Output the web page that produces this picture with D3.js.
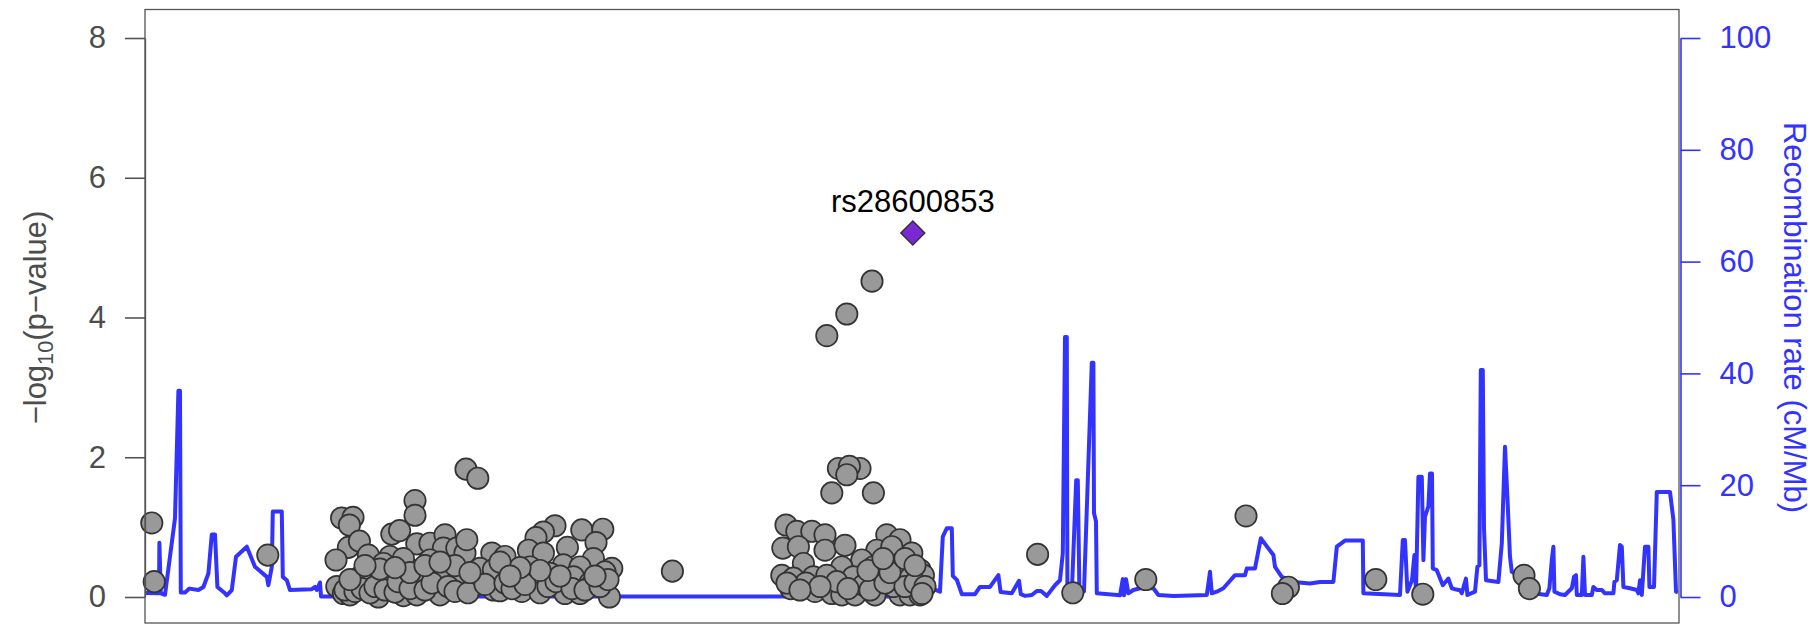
<!DOCTYPE html>
<html>
<head>
<meta charset="utf-8">
<script src="https://cdn.jsdelivr.net/npm/d3@7"></script>
<style>
  html, body { margin: 0; padding: 0; background: #fff; }
  svg { display: block; font-family: "Liberation Sans", Arial, Helvetica, sans-serif; }
</style>
</head>
<body>
<svg id="chart" width="1816" height="625"></svg>
<script>
// ---------------- DATA ----------------
// SNP positions (kb from region start) and -log10(p)
const snpPos = [
  3.4, 4.6, 61.4,
  160.5, 166.4, 135, 135, 98.3, 104, 102.2, 123.4, 127.3, 101.7, 107.2, 95.5, 135.9, 142.5, 150, 149.2, 155.9,
  160, 160.9, 173.4, 111.7, 122.5, 130.9, 142.5, 113.4, 205, 199.2, 195.5, 218.4, 228.9, 225.5, 211.2, 180,
  191.7, 199.2, 224.2, 233.4, 230, 209.2, 217.5, 192.5, 202.5, 177.5, 185.9, 194.2, 214.2, 222.5, 107.5, 120.9,
  127.5, 142.5, 149.2, 167.5, 174.2, 122.5, 137.5, 110.9, 129.2, 119.2, 97.5, 95.9, 99.2, 102.5, 116.7, 129.2,
  135.9, 147.5, 158.4, 164.2, 174.2, 177.5, 188.4, 197.5, 210, 217.5, 232.2, 223.4,
  100, 105, 108.5, 112.5, 115, 120, 125, 126.5, 132.5, 140, 143.5, 151.5, 155, 161.5, 170, 180, 183.5, 190,
  201.5, 205.5, 213.5, 220, 227.5, 231.5, 225, 207.5, 197.5, 187.5, 155, 162.5, 117.5, 132.5, 102.5, 110, 125,
  140, 147.5, 177.5, 182.5,
  263.7,
  363.5, 350.9, 340.9, 346.7, 357.5, 352.2, 350.9, 343.4, 364.2,
  320.5, 325.9, 333.4, 340, 318.9, 326.7, 340, 350, 370.9, 377.5, 383.4, 365.9, 373.4, 358.4, 348.4, 329.2,
  387.5, 364.2, 377.5, 318.4, 324.2, 334.2, 340.9, 354.2, 367.5, 382.5, 389.2, 322.9, 335, 343.4, 348.4, 355,
  365, 377.5, 382.5, 387.5, 345.9, 359.2, 374.2, 330.5, 337.5, 351.5, 362.5, 370, 380, 385, 361.5, 372.5, 380,
  385, 369, 321, 327.5, 390, 388.5,
  446.3, 463.9, 500.4, 550.5, 571.7, 568.7, 615.4, 638.9, 689.5, 692.2
];
const snpLogP = [
  1.06, 0.22, 0.60,
  1.83, 1.70, 1.38, 1.17, 1.13, 1.14, 1.03, 0.90, 0.95, 0.71, 0.80, 0.53, 0.76, 0.77, 0.89, 0.70, 0.70,
  0.63, 0.82, 0.63, 0.60, 0.58, 0.43, 0.53, 0.39, 1.02, 0.93, 0.85, 0.96, 0.97, 0.78, 0.71, 0.58,
  0.67, 0.63, 0.55, 0.41, 0.36, 0.46, 0.43, 0.43, 0.34, 0.36, 0.29, 0.29, 0.29, 0.20, 0.29, 0.31,
  0.29, 0.31, 0.29, 0.41, 0.39, 0.17, 0.17, 0.20, 0.55, 0.48, 0.12, 0.15, 0.05, 0.03, 0.00, 0.02,
  0.03, 0.03, 0.20, 0.15, 0.10, 0.09, 0.08, 0.06, 0.05, 0.05, 0.00, 0.17,
  0.10, 0.08, 0.12, 0.06, 0.15, 0.10, 0.07, 0.22, 0.12, 0.10, 0.20, 0.15, 0.08, 0.06, 0.18, 0.20, 0.12, 0.18,
  0.15, 0.22, 0.12, 0.10, 0.15, 0.25, 0.30, 0.30, 0.38, 0.42, 0.45, 0.35, 0.40, 0.35, 0.25, 0.45, 0.42,
  0.45, 0.50, 0.50, 0.30,
  0.37,
  4.52, 4.05, 3.74, 1.84, 1.84, 1.87, 1.75, 1.49, 1.49,
  1.03, 0.94, 0.94, 0.89, 0.70, 0.72, 0.67, 0.74, 0.89, 0.82, 0.63, 0.67, 0.72, 0.53, 0.43, 0.48,
  0.39, 0.43, 0.48, 0.31, 0.27, 0.29, 0.31, 0.29, 0.29, 0.27, 0.31, 0.12, 0.08, 0.05, 0.03, 0.03,
  0.03, 0.03, 0.03, 0.03, 0.22, 0.17, 0.15, 0.20, 0.15, 0.12, 0.10, 0.20, 0.15, 0.20, 0.38, 0.35, 0.55,
  0.45, 0.55, 0.20, 0.10, 0.15, 0.05,
  0.61, 0.06, 0.25, 1.16, 0.14, 0.05, 0.25, 0.04, 0.31, 0.12
];

// Lead SNP
const leadName = "rs28600853";
const leadPos = 383.9;
const leadLogP = 5.21;

// Recombination rate (cM/Mb) along the region
const recombPos = [
  0.5, 7, 7.2, 7.9, 10, 15, 16.7, 17.5, 17.9, 20, 22.2, 26.7, 29.2, 31.7, 33.4, 35, 36.2, 40, 40.9, 43.4,
  45.5, 50.9, 55, 60.9, 61.7, 63.4, 63.9, 68.4, 68.9, 70.9, 72.5, 83.4, 85, 85.9, 87.5, 88, 390,
  393.4, 397.5, 398.9, 400.9, 403.4, 403.9, 406, 408.4, 415, 417.5, 422.5, 426.7, 427.8, 433.4, 437, 437.9,
  440, 443.4, 445.9, 448, 450.9, 455, 457.5, 458.9, 460, 460.9, 461.2, 463.4, 465.6, 466.4, 467.2, 469.5,
  473.4, 474.2, 474.5, 475.5, 475.9, 487.5, 488.9, 489.5, 490.5, 491.7, 494.2, 497.5, 504.2, 506.7, 514.2,
  530.9, 532.5, 533.4, 535.9, 539.2, 545, 550, 550.9, 555, 557.9, 564.2, 565, 568.4, 574.2, 582.5, 587.5,
  594.2, 595.9, 600, 608.9, 609.2, 627.5, 628.9, 630, 631.2, 633.5, 634.7, 635.5, 636.7, 638.4, 639.2, 640,
  641.7, 642.5, 643.5, 643.9, 645.9, 648.9, 651.7, 653.4, 655, 657.5, 658.4, 660.5, 661.2, 665, 666.2, 667.2,
  667.9, 668.9, 669.5, 670.5, 676.7, 678.4, 680, 681.2, 682.5, 683.4, 685, 688.5, 694.2, 700.9, 702.2, 703.4,
  704.2, 704.7, 707.5, 710, 713.4, 714.5, 715.5, 715.9, 718.4, 719.2, 720, 723.4, 724.2, 725.9, 728.4, 730,
  734.2, 734.7, 735.9, 737.5, 738.4, 739.2, 742.5, 745.9, 746.7, 747.5, 748.4, 750, 751.7, 752.2, 754.5,
  755.9, 762.5, 764.2, 765.5, 766.5
];
const recombRate = [
  0.7, 0.66, 9.7, 0.66, 0.4, 14.1, 36.9, 36.9, 0.8, 0.8, 1.5, 1.25, 1.8, 4.2, 11.2, 11.2, 1.8, 0.66, 0.3, 1.25,
  7.2, 9.0, 5.4, 3.6, 2.1, 5.4, 15.3, 15.3, 3.6, 3.0, 1.25, 1.4, 1.8, 1.25, 2.6, 0.1, 0.1,
  1.56, 0.95, 10.8, 12.3, 12.3, 3.8, 3.0, 0.5, 0.5, 1.8, 1.8, 3.9, 0.9, 0.66, 2.9, 0.5,
  0.2, 0.36, 1.07, 1.07, 0.2, 2.1, 3.0, 7.8, 46.5, 46.5, 1.25, 0.66, 20.9, 20.9, 1.25, 1.0,
  41.9, 41.9, 15.0, 13.5, 0.66, 0.3, 3.2, 0.3, 3.2, 0.66, 1.25, 1.56, 1.56, 0.36, 0.2,
  0.36, 4.5, 0.66, 0.95, 1.56, 3.9, 3.9, 5.1, 5.1, 10.5, 7.5, 5.4, 3.6, 2.7, 2.4, 2.7,
  2.7, 9.0, 10.1, 10.1, 0.66, 0.36, 10.2, 10.2, 0.95, 3.0, 7.5, 0.95, 21.5, 21.5, 6.6, 14.4,
  16.2, 22.1, 22.1, 5.1, 4.8, 2.1, 3.3, 1.56, 1.4, 1.2, 0.66, 3.3, 0.36, 0.95, 5.4, 5.7,
  40.6, 40.6, 12.3, 3.0, 2.7, 9.6, 26.9, 17.9, 7.2, 4.5, 4.2, 1.5, 0.66, 0.36, 1.56, 6.6,
  9.0, 0.95, 0.5, 0.36, 1.56, 3.6, 3.9, 0.36, 0.36, 7.2, 0.36, 0.36, 1.8, 1.25, 1.25, 0.66,
  0.66, 2.7, 3.0, 9.3, 9.0, 1.8, 1.56, 1.25, 0.66, 3.0, 0.36, 9.0, 9.0, 1.8, 1.8,
  18.8, 18.8, 13.8, 0.95, 0.8
];

// Axis ticks
const yTicks = [0, 2, 4, 6, 8];
const recombTicks = [0, 20, 40, 60, 80, 100];

// ---------------- LAYOUT ----------------
const svg = d3.select("#chart");
const plotLeft = 145, plotRight = 1679, plotTop = 9.5, plotBottom = 623;
const regionKb = [0, 766.5];

const x = d3.scaleLinear().domain(regionKb).range([145, 1678]);
const y = d3.scaleLinear().domain([0, 8]).range([597, 38]);
const yr = d3.scaleLinear().domain([0, 100]).range([597, 38]);

const FONT = 31;
const GREY_TXT = "#4d4d4d";
const BLUE = "#3333ff";

// Recombination line (behind points)
const line = d3.line()
  .x((d, i) => x(recombPos[i]))
  .y((d) => yr(d));
svg.append("path")
  .datum(recombRate)
  .attr("d", line)
  .attr("fill", "none")
  .attr("stroke", BLUE)
  .attr("stroke-width", 4)
  .attr("stroke-linejoin", "round");

// SNP points
const snps = snpPos.map((p, i) => ({ pos: p, lp: snpLogP[i] }));
svg.append("g")
  .selectAll("circle")
  .data(snps)
  .join("circle")
  .attr("cx", d => x(d.pos))
  .attr("cy", d => y(d.lp))
  .attr("r", 10.7)
  .attr("fill", "#999999")
  .attr("stroke", "#333333")
  .attr("stroke-width", 1.7);

// Lead SNP diamond
svg.append("path")
  .attr("d", d3.symbol().type(d3.symbolDiamond2).size(2 * 13.5 * 13.5)())
  .attr("transform", `translate(${x(leadPos)},${y(leadLogP)})`)
  .attr("fill", "#7a28d4")
  .attr("stroke", "#333333")
  .attr("stroke-width", 1.5);

svg.append("text")
  .attr("x", x(leadPos))
  .attr("y", y(leadLogP) - 21)
  .attr("text-anchor", "middle")
  .attr("font-size", FONT)
  .attr("fill", "#000")
  .text(leadName);

// Plot box
svg.append("rect")
  .attr("x", plotLeft).attr("y", plotTop)
  .attr("width", plotRight - plotLeft).attr("height", plotBottom - plotTop)
  .attr("fill", "none")
  .attr("stroke", "#555555")
  .attr("stroke-width", 1.3);

// Left axis
const leftAxis = svg.append("g")
  .attr("transform", `translate(${plotLeft},0)`)
  .call(d3.axisLeft(y).tickValues(yTicks).tickSize(20).tickSizeOuter(0).tickPadding(19));
leftAxis.select(".domain").attr("stroke", "#555555").attr("stroke-width", 1.3);
leftAxis.selectAll(".tick line").attr("stroke", "#555555").attr("stroke-width", 1.6);
leftAxis.selectAll(".tick text")
  .attr("font-size", FONT).attr("fill", GREY_TXT)
  .attr("font-family", "Liberation Sans, Arial, sans-serif");

// Right axis
const rightAxis = svg.append("g")
  .attr("transform", `translate(${plotRight + 1.5},0)`)
  .call(d3.axisRight(yr).tickValues(recombTicks).tickSize(20).tickSizeOuter(0).tickPadding(19));
rightAxis.select(".domain").attr("stroke", BLUE).attr("stroke-width", 1.6);
rightAxis.selectAll(".tick line").attr("stroke", BLUE).attr("stroke-width", 1.6);
rightAxis.selectAll(".tick text")
  .attr("font-size", FONT).attr("fill", BLUE)
  .attr("font-family", "Liberation Sans, Arial, sans-serif");

// Left axis title: −log10(p−value)
const lt = svg.append("text")
  .attr("transform", `translate(35,${(y(0) + y(8)) / 2}) rotate(-90)`)
  .attr("text-anchor", "middle")
  .attr("dy", "0.35em")
  .attr("font-size", FONT)
  .attr("fill", GREY_TXT);
lt.append("tspan").text("\u2212log");
lt.append("tspan").attr("font-size", FONT * 0.7).attr("dy", 7).text("10");
lt.append("tspan").attr("dy", -7).text("(p\u2212value)");

// Right axis title
svg.append("text")
  .attr("transform", `translate(1795,${(yr(0) + yr(100)) / 2}) rotate(90)`)
  .attr("text-anchor", "middle")
  .attr("dy", "0.35em")
  .attr("font-size", FONT)
  .attr("fill", BLUE)
  .text("Recombination rate (cM/Mb)");
</script>
</body>
</html>
